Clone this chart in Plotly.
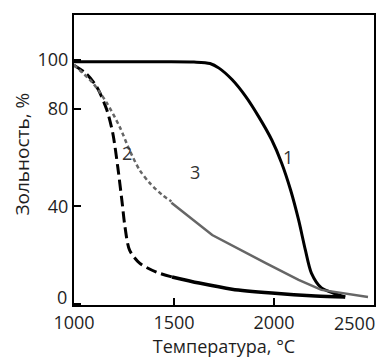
import plotly.graph_objects as go

# Curve 1 (solid black)
x1 = [1000, 1400, 1600, 1680, 1725, 1790, 1859, 1924, 1989, 2038, 2083, 2123, 2157, 2187, 2237, 2296, 2356]
y1 = [99.3, 99.3, 99.2, 98.6, 96.7, 92.0, 85.0, 76.7, 67.2, 57.8, 46.7, 34.4, 22.0, 12.6, 6.5, 4.4, 2.8]

# Curve 2 (black, dashed then solid)
x2a = [1000, 1060, 1114, 1164, 1194, 1219, 1240, 1255, 1278, 1328, 1412, 1490]
y2a = [97.9, 94.5, 89.0, 79.6, 70.0, 56.0, 42.0, 31.5, 22.0, 16.7, 13.0, 11.0]
x2b = [1490, 1626, 1790, 1989, 2207, 2356]
y2b = [11.0, 8.5, 6.0, 4.4, 3.2, 2.8]

# Curve 3 (gray, dotted then solid)
x3a = [1000, 1094, 1164, 1229, 1278, 1328, 1378, 1442, 1487]
y3a = [98.0, 90.6, 82.4, 72.5, 63.0, 54.9, 49.6, 44.6, 42.0]
x3b = [1487, 1691, 1959, 2123, 2237, 2470]
y3b = [41.5, 28.2, 16.7, 9.8, 5.7, 2.8]

x_ticks = [1000, 1500, 2000]
x_ticktext = ["1000", "1500", "2000"]
y_ticks = [0, 40, 80, 100]
y_ticktext = ["", "40", "80", "100"]

curve_labels = ["1", "2", "3"]
label_x = [2068, 1263, 1606]
label_y = [60.2, 61.8, 54.0]

FONT = "Open Sans"
TXT = "#1e1e1e"

fig = go.Figure()
fig.add_trace(go.Scatter(x=x1, y=y1, mode="lines",
                         line=dict(color="black", width=3, shape="spline", smoothing=0.8)))
fig.add_trace(go.Scatter(x=x2a, y=y2a, mode="lines",
                         line=dict(color="black", width=3, shape="spline", smoothing=0.8, dash="11px,5px")))
fig.add_trace(go.Scatter(x=x2b, y=y2b, mode="lines",
                         line=dict(color="black", width=3.5, shape="spline", smoothing=0.8)))
fig.add_trace(go.Scatter(x=x3a, y=y3a, mode="lines",
                         line=dict(color="#666666", width=2.5, shape="spline", smoothing=0.8, dash="4px,3px")))
fig.add_trace(go.Scatter(x=x3b, y=y3b, mode="lines",
                         line=dict(color="#666666", width=2.5)))

for t, xx, yy in zip(curve_labels, label_x, label_y):
    fig.add_annotation(x=xx, y=yy, text=t, showarrow=False,
                       font=dict(family=FONT, size=18, color="#333"))

# "2500" label pulled inside the frame, as in the reference
fig.add_annotation(x=0.934, xref="paper", xanchor="center", y=0, yref="paper", yanchor="top",
                   yshift=-4, text="2500", showarrow=False,
                   font=dict(family=FONT, size=18, color=TXT))
# "0" label sits a little above the bottom axis in the reference
fig.add_annotation(x=0, xref="paper", xanchor="right", xshift=-5, y=0, yref="y", yanchor="middle",
                   yshift=7, text="0", showarrow=False,
                   font=dict(family=FONT, size=18, color=TXT))
# y-axis title
fig.add_annotation(x=-0.172, xref="paper", xanchor="center", y=0.52, yref="paper", yanchor="middle",
                   text="Зольность, %", textangle=-90, showarrow=False,
                   font=dict(family=FONT, size=19, color=TXT))

fig.update_layout(
    width=381, height=362,
    margin=dict(l=74, r=5, t=15, b=57),
    paper_bgcolor="white", plot_bgcolor="white",
    showlegend=False,
    font=dict(family=FONT, size=18, color=TXT),
)
fig.update_xaxes(range=[1000, 2500], tickvals=x_ticks, ticktext=x_ticktext,
                 ticks="inside", ticklen=7, tickwidth=1.5, tickcolor="black",
                 showline=True, linecolor="black", linewidth=2, mirror=True,
                 showgrid=False, zeroline=False,
                 title=dict(text="Температура, °C", standoff=6,
                            font=dict(family=FONT, size=18, color=TXT)))
fig.update_yaxes(range=[-0.5, 118.5], tickvals=y_ticks, ticktext=y_ticktext,
                 ticks="inside", ticklen=7, tickwidth=1.5, tickcolor="black",
                 showline=True, linecolor="black", linewidth=2, mirror=True,
                 showgrid=False, zeroline=False)

fig.write_html("out.html")
